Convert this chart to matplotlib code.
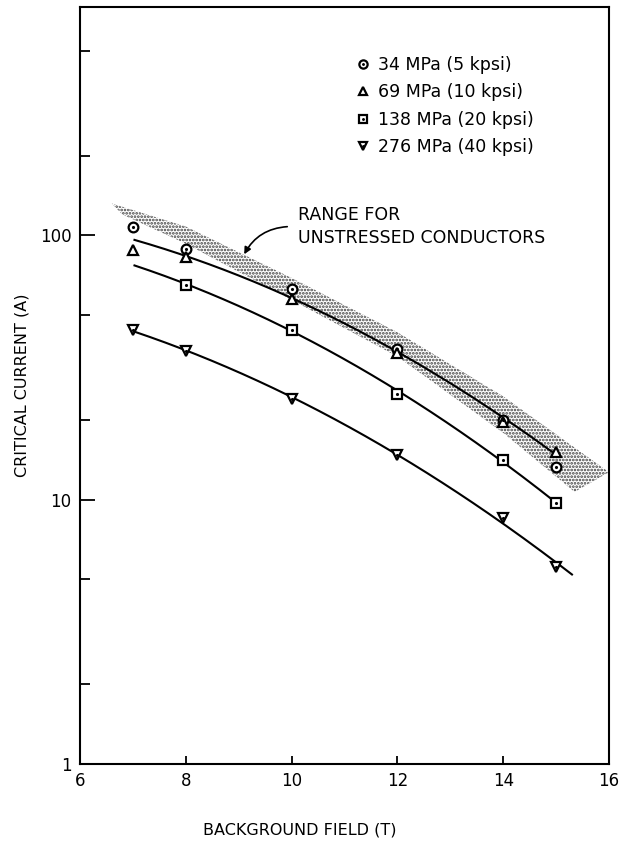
import matplotlib
matplotlib.use("Agg")
import matplotlib.pyplot as plt
import numpy as np
from matplotlib.legend_handler import HandlerTuple
from matplotlib.ticker import FixedLocator, NullFormatter

plt.rcParams['font.family'] = ['DejaVu Sans']
plt.rcParams['hatch.linewidth'] = 1.3

# measured points, critical current (A) vs background field (T)
field = [7, 8, 10, 12, 14, 15]
ic_34 = [108, 89, 62.5, 37, 20, 13.3]
ic_69 = [88, 82.5, 57.5, 36, 19.7, 15.1]
field_138 = [8, 10, 12, 14, 15]
ic_138 = [65, 44, 25.2, 14.1, 9.7]
ic_276 = [44, 36.4, 24.1, 14.8, 8.55, 5.55]

labels = ['34 MPa (5 kpsi)', '69 MPa (10 kpsi)', '138 MPa (20 kpsi)', '276 MPa (40 kpsi)']

# hand-drawn fit curves (knots)
curve_x = [7, 8, 10, 12, 14, 15]
curve_a = [96, 84, 58, 36.5, 20, 15]
curve_b = [77.5, 65, 44, 25.5, 14, 9.7]
curve_c = [44, 36.4, 24, 14.8, 8.5, 5.6]
curve_end = [15.05, 15.0, 15.3]

# stippled band, range for unstressed conductors
band_x_top = [6.6, 8, 10, 12, 14, 16]
band_top = [132, 108, 69, 43, 24.6, 12.7]
band_x_bot = [15.35, 14, 12, 10, 8, 6.8]
band_bot = [10.7, 17.9, 34.8, 57, 93, 120]

fig = plt.figure(figsize=(6.21, 8.42), dpi=100)
ax = fig.add_axes([80/621, 78/842, 529/621, 757/842])
ax.set_yscale('log')
ax.set_xlim(6, 16)
ax.set_ylim(1, 731)

ax.fill(band_x_top + band_x_bot, band_top + band_bot, facecolor='none',
        edgecolor='0.25', hatch='.....', linewidth=0, zorder=1)

for ys, xend in zip([curve_a, curve_b, curve_c], curve_end):
    p = np.polyfit(curve_x, np.log10(ys), 2)
    xx = np.linspace(7.03, xend, 200)
    ax.plot(xx, 10 ** np.polyval(p, xx), color='black', lw=1.5, zorder=2)

mk = dict(ls='none', mfc='white', mec='black', mew=1.6, ms=7, zorder=3)
dot = dict(ls='none', marker='.', color='black', ms=2.5, zorder=4)
h1 = ax.plot(field, ic_34, marker='o', **mk)[0]
d1 = ax.plot(field, ic_34, **dot)[0]
h2 = ax.plot(field, ic_69, marker='^', **mk)[0]
h3 = ax.plot(field_138, ic_138, marker='s', **dict(mk, ms=6.5))[0]
d3 = ax.plot(field_138, ic_138, **dot)[0]
h4 = ax.plot(field, ic_276, marker='v', **mk)[0]
d4 = ax.plot(field, ic_276, **dot)[0]

leg = ax.legend([(h1, d1), h2, (h3, d3), (h4, d4)], labels,
                handler_map={tuple: HandlerTuple(ndivide=1)},
                loc='upper left', bbox_to_anchor=(0.51, 0.945), frameon=False,
                fontsize=12.5, handlelength=0.7, handletextpad=0.5,
                labelspacing=0.55, borderaxespad=0, markerscale=0.85)

ax.text(10.12, 108, 'RANGE FOR\nUNSTRESSED CONDUCTORS', fontsize=12.5,
        ha='left', va='center', linespacing=1.3)
ax.annotate('', xy=(9.08, 83), xytext=(9.97, 108),
            arrowprops=dict(arrowstyle='-|>', color='black', lw=1.2,
                            connectionstyle='arc3,rad=0.3'))

ax.set_xticks([6, 8, 10, 12, 14, 16])
ax.yaxis.set_major_locator(FixedLocator([1, 10, 100]))
ax.set_yticklabels(['1', '10', '100'])
ax.yaxis.set_minor_locator(FixedLocator([2, 5, 20, 50, 200, 500]))
ax.yaxis.set_minor_formatter(NullFormatter())
ax.tick_params(axis='both', which='major', direction='in', labelsize=12, width=1.3)
ax.tick_params(axis='y', which='major', length=11, pad=6)
ax.tick_params(axis='x', which='major', length=6, pad=6)
ax.tick_params(axis='y', which='minor', direction='in', length=7, width=1.3)
for s in ax.spines.values():
    s.set_linewidth(1.5)

ax.set_xlabel('BACKGROUND FIELD (T)', fontsize=11.5, va='center')
ax.xaxis.set_label_coords(0.416, -0.087)
ax.set_ylabel('CRITICAL CURRENT (A)', fontsize=11.5, va='center')
ax.yaxis.set_label_coords(-0.109, 0.5)

fig.savefig('out.png', dpi=100)
